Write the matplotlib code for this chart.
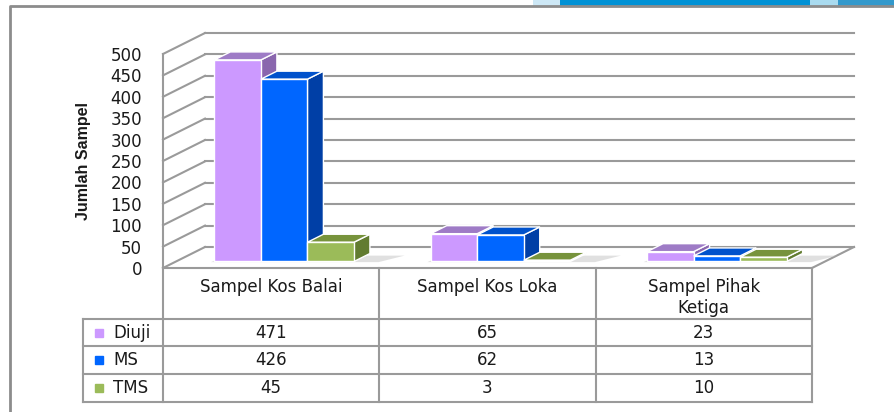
import numpy as np
import matplotlib.pyplot as plt
from matplotlib.patches import Polygon, Rectangle
from matplotlib.lines import Line2D

# data
categories = ['Sampel Kos Balai', 'Sampel Kos Loka', 'Sampel Pihak\nKetiga']
series = ['Diuji', 'MS', 'TMS']
diuji = [471, 65, 23]
ms = [426, 62, 13]
tms = [45, 3, 10]
yticks = np.arange(0, 501, 50)

front_cols = ['#CC99FF', '#0066FF', '#9BBB59']
top_cols = ['#9E7BC6', '#0052CC', '#77933C']
side_cols = ['#8A66AE', '#003FA6', '#627C30']
grid_col = '#9A9A9A'
txt_col = '#1A1A1A'

W, H = 895, 412
fig = plt.figure(figsize=(W / 100, H / 100), dpi=100)


def fx(px):
    return px / W


def fy(py):
    return 1 - py / H


# plot area (front face of the 3d box)
ax = fig.add_axes([fx(163), fy(268), fx(812) - fx(163), fy(54) - fy(268)])
ax.set_xlim(0, 3)
ax.set_ylim(0, 500)
ax.patch.set_visible(False)

# depth of the box, in data units
DX = 42 / (649 / 3)
DY = 21 / (214 / 500)


def proj(x, v, d):
    return (x + d * DX, v + d * DY)


# walls
for t in yticks:
    ax.plot([0, DX], [t, t + DY], color=grid_col, lw=1.5, clip_on=False, zorder=1)
    ax.plot([DX, 3 + DX], [t + DY, t + DY], color=grid_col, lw=1.5, clip_on=False, zorder=1)
ax.plot([3, 3 + DX], [0, DY], color=grid_col, lw=1.5, clip_on=False, zorder=1)

for s in ['top', 'right']:
    ax.spines[s].set_visible(False)
for s in ['left', 'bottom']:
    ax.spines[s].set_color(grid_col)
    ax.spines[s].set_linewidth(1.5)

ax.set_xticks([])
ax.set_yticks(yticks)
ax.tick_params(axis='y', length=0, pad=15, labelsize=12, labelcolor=txt_col)
ax.set_ylabel('Jumlah Sampel', fontsize=11.5, fontweight='bold', color=txt_col,
              fontfamily=['Liberation Sans', 'DejaVu Sans'], labelpad=14)

# bars
values = [diuji, ms, tms]
w = 0.215
d0, d1 = 0.31, 0.69
for i in range(len(categories)):
    xl = i + 0.5 - 1.5 * w
    xr = i + 0.5 + 1.5 * w
    shadow = [proj(xl - 0.01, 0, d0 - 0.03), proj(xr + 0.12, 0, d0 - 0.03),
              proj(xr + 0.18, 0, d1 - 0.1), proj(xl, 0, d1 - 0.1)]
    ax.add_patch(Polygon(shadow, fc='#C8C8C8', ec='none', alpha=0.55,
                         zorder=2, clip_on=False))
    for j, vals in enumerate(values):
        v = vals[i]
        x0 = i + 0.5 + (j - 1.5) * w
        x1 = x0 + w
        front = [proj(x0, 0, d0), proj(x1, 0, d0), proj(x1, v, d0), proj(x0, v, d0)]
        top = [proj(x0, v, d0), proj(x1, v, d0), proj(x1, v, d1), proj(x0, v, d1)]
        side = [proj(x1, 0, d0), proj(x1, 0, d1), proj(x1, v, d1), proj(x1, v, d0)]
        z = 3 + i * 3 + j
        for pts, c in [(side, side_cols[j]), (top, top_cols[j]), (front, front_cols[j])]:
            ax.add_patch(Polygon(pts, fc=c, ec='white', lw=1, zorder=z,
                                 clip_on=False))

# data table below
tab = fig.add_axes([fx(163), fy(402), fx(812) - fx(163), fy(268) - fy(402)])
tab.set_xlim(0, 3)
tab.set_ylim(134, 0)
tab.axis('off')
row_edges = [0, 51, 78, 106, 134]
XL = -80 / (649 / 3)

for xv in range(4):
    tab.plot([xv, xv], [0, 134], color=grid_col, lw=1.5, clip_on=False)
tab.plot([XL, XL], [51, 134], color=grid_col, lw=1.5, clip_on=False)
for yv in row_edges[1:]:
    tab.plot([XL, 3], [yv, yv], color=grid_col, lw=1.5, clip_on=False)

for i, cat in enumerate(categories):
    tab.text(i + 0.5, 10, cat, ha='center', va='top', fontsize=12,
             color=txt_col, linespacing=1.2)

for j, vals in enumerate(values):
    yc = (row_edges[j + 1] + row_edges[j + 2]) / 2
    for i in range(len(categories)):
        tab.text(i + 0.5, yc, str(vals[i]), ha='center', va='center',
                 fontsize=12, color=txt_col)
    tab.plot(XL + 16 / (649 / 3), yc, marker='s', ms=6, color=front_cols[j],
             clip_on=False)
    tab.text(XL + 30 / (649 / 3), yc, series[j], ha='left', va='center',
             fontsize=12, color=txt_col)

# outer frame and slide band on top
fig.add_artist(Line2D([fx(10), fx(10), 1], [0, fy(6), fy(6)],
                      color='#8C8C8C', lw=2, transform=fig.transFigure))
for a, b, c in [(533, 560, '#CDE8F6'), (560, 810, '#0091D5'),
                (810, 838, '#A9DBF0'), (838, 895, '#3399CC')]:
    fig.add_artist(Rectangle((fx(a), fy(6)), fx(b) - fx(a), 1 - fy(6),
                             transform=fig.transFigure, color=c, lw=0))

fig.savefig('out.png', dpi=100)
